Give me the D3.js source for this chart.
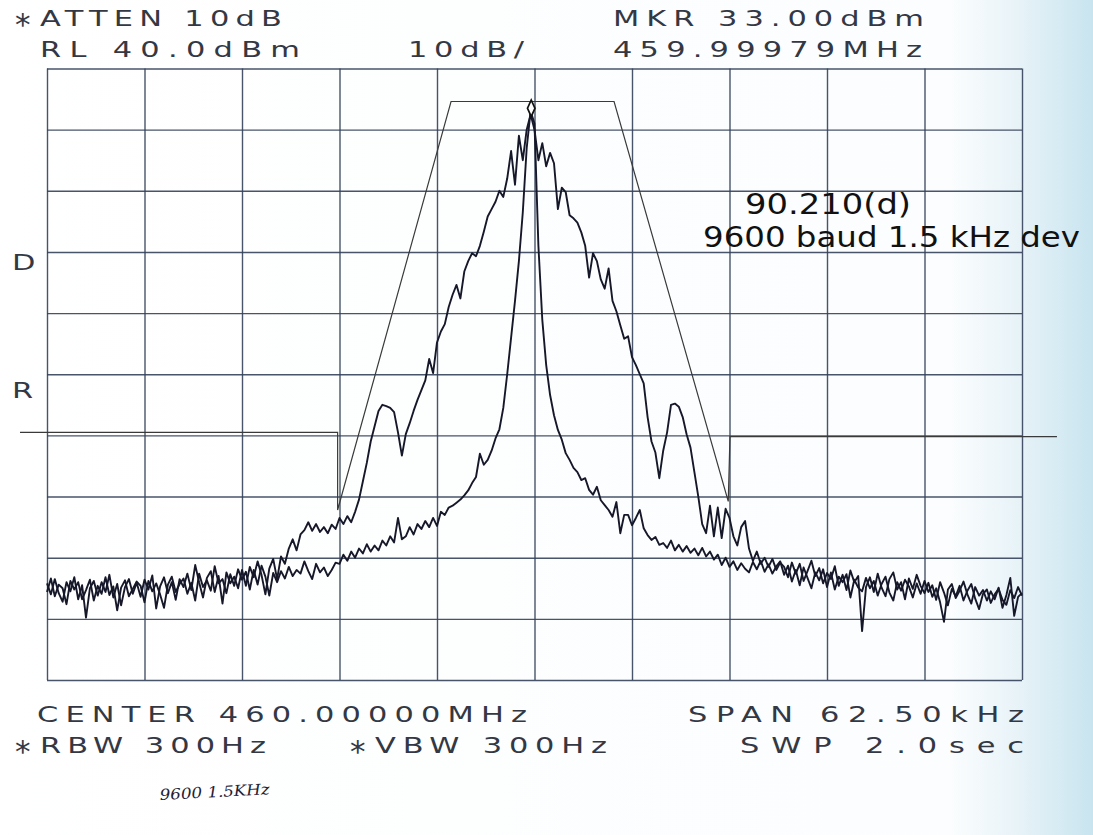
<!DOCTYPE html>
<html><head><meta charset="utf-8">
<script src="https://cdn.jsdelivr.net/npm/d3@7"></script>
<style>html,body{margin:0;padding:0;background:#fff;}svg{display:block}</style>
</head><body>
<svg id="c" width="1093" height="835"></svg>
<script>
// ---------- data ----------
const startKHz = -31.25;          // first sweep point, offset from 460 MHz
const stepKHz = 0.25;             // sweep point spacing
const freqGrid = [-31.25,-25,-18.75,-12.5,-6.25,0,6.25,12.5,18.75,25,31.25];
const levelGrid = [-60,-50,-40,-30,-20,-10,0,10,20,30,40];

// wide trace: 9600 baud, 1.5 kHz deviation (dBm)
const traceWide = [
-44.2,-46.0,-43.5,-45.8,-47.2,-44.0,-45.5,-43.2,-46.8,-44.5,-49.8,-45.0,-43.8,-46.2,-44.0,-45.6,-42.8,-46.5,-44.3,-47.8,-44.8,-43.5,-45.9,-44.1,
-46.4,-43.6,-45.2,-42.9,-48.3,-44.7,-43.2,-45.8,-44.0,-46.9,-43.5,
-44.8,-42.6,-45.3,-41.2,-44.0,-46.5,-43.3,-42.2,-45.6,-43.0,-47.5,-42.4,-44.2,-43.1,-45.0,
-42.0,-44.6,-41.5,-43.2,-40.6,-42.8,-46.0,-41.8,-40.2,-43.5,-39.8,-41.0,
-38.5,-37.0,-38.8,-36.2,-35.5,-34.2,-35.6,-34.5,-35.8,-35.0,-36.0,-34.6,-35.3,-33.5,-34.5,-33.2,-34.2,
-32.5,-30.5,-27.5,-24.5,-21.0,-18.5,-16.0,-15.0,-15.2,-15.5,-16.2,-19.5,-23.3,-19.8,-18.0,-16.0,-14.2,-12.6,-11.0,-7.5,-9.8,
-4.8,-3.0,-1.8,1.0,3.0,4.6,2.4,6.8,8.5,9.8,9.3,11.0,13.3,15.8,17.0,18.2,20.0,19.0,22.0,26.5,21.0,29.0,25.0,30.0,32.5,
30.0,25.0,27.8,24.0,26.2,24.5,17.0,20.5,19.8,16.0,15.5,14.8,13.2,11.0,5.8,9.8,8.5,5.5,4.0,7.3,2.0,0.3,-2.0,-4.2,-3.8,-7.2,-8.5,-10.0,-11.5,-17.0,-21.0,-22.8,-27.0,-22.5,
-19.5,-15.0,-14.8,-15.3,-17.0,-19.8,-22.0,-26.0,-30.0,-34.5,-36.0,-31.5,-36.5,-31.8,-36.8,-32.0,-33.5,-36.5,-38.0,-35.0,-34.0,-38.5,-40.5,-39.0,-41.0,-40.0,-41.5,-40.2,-42.0,-40.8,
-41.5,-43.2,-40.8,-42.6,-41.0,-43.8,-42.2,-40.5,-43.0,-41.7,-44.2,-42.5,
-43.5,-41.4,-44.6,-42.8,-45.3,-42.1,-44.0,-43.0,-52.0,-44.8,
-43.2,-45.6,-42.6,-44.9,-46.3,-43.5,-42.4,-45.2,-44.0,-46.8,-43.4,-45.1,-42.8,-44.6,-45.8,
-44.1,-46.4,-45.0,-47.3,-50.5,-45.2,-44.3,-46.6,-45.4,-43.9,-46.0,-47.5,-44.8,-46.2,-45.3,
-47.0,-45.5,-46.8,-44.9,-48.2,-46.1,-43.3,-49.5,-46.4,-45.8
];

// narrow trace: unmodulated carrier (dBm)
const traceCarrier = [
-45.6,-43.4,-46.3,-44.4,-45.0,-47.6,-43.8,-45.2,-44.0,-46.8,-45.3,-43.6,-47.0,-44.6,-45.9,-43.2,-46.1,-44.7,-48.6,-44.9,-43.7,-46.3,-45.1,-43.9,
-44.6,-47.3,-43.8,-45.5,-44.2,-46.0,-48.2,-44.4,-43.1,-45.6,-44.3,
-43.4,-45.9,-44.1,-47.0,-42.6,-44.8,-43.7,-45.4,-41.4,-44.2,-43.5,-45.8,-42.7,-44.6,-41.9,
-43.6,-42.3,-45.2,-42.0,-44.4,-41.3,-43.1,-46.2,-42.5,-44.0,-42.2,-43.4,
-41.5,-43.0,-42.0,-42.6,-40.6,-42.2,-43.5,-41.0,-42.4,-41.6,-43.0,-42.0,-40.8,
-41.0,-39.5,-40.5,-39.0,-40.0,-38.5,-39.3,-37.8,-39.0,-38.0,-38.8,-37.2,-38.0,-36.5,-37.5,-33.5,-37.0,-36.5,-35.0,-36.2,
-34.5,-35.3,-34.0,-35.0,-33.5,-34.8,-32.5,-33.0,-31.8,-31.5,-31.0,-30.5,-29.8,-29.0,-27.8,-26.8,-23.0,-24.8,-24.0,-22.5,
-20.5,-19.0,-15.5,-10.0,-4.0,2.0,8.5,16.5,27.0,33.0,31.0,
11.0,-1.1,-8.5,-13.4,-16.7,-19.1,-20.7,-22.9,-24.0,-25.3,-26.0,-27.3,-27.0,-28.9,-29.7,-28.4,-30.6,-31.4,-32.2,-33.3,
-30.9,-36.0,-33.0,-33.0,-34.7,-33.5,-32.2,-35.2,-36.3,-37.1,-36.6,-37.9,-37.6,
-38.4,-37.2,-38.8,-37.9,-39.0,-38.1,-39.2,-38.5,-39.6,-38.4,-39.8,-39.0,-40.3,-39.5,-41.2,-40.0,-41.5,-40.6,-42.0,-40.9,
-41.8,-42.4,-40.7,-41.9,-40.5,-42.3,-41.1,-42.6,-41.4,-40.6,
-42.8,-41.3,-43.9,-42.0,-44.5,-41.6,-43.3,-45.0,-42.4,-43.7,-41.9,-44.8,
-42.4,-45.2,-43.1,-44.0,-42.7,-46.5,-43.6,-44.9,-45.5,-43.3,
-45.0,-43.8,-46.2,-44.3,-43.1,-45.7,-47.0,-44.0,-45.4,-43.6,-44.7,-46.5,-44.2,-45.9,-43.8,
-45.6,-44.5,-46.9,-44.0,-45.7,-47.8,-45.1,-46.3,-44.6,-47.0,-45.4,-44.3,-46.7,-48.4,-45.9,
-45.2,-47.4,-46.0,-45.1,-46.9,-47.7,-45.3,-46.6,-44.8,-46.2
];

// emission mask (kHz offset, dBm)
const maskFreq  = [-32.98,-12.62,-12.62,-5.35,5.10,12.42,12.53,33.49];
const maskLevel = [-19.5,-19.5,-32.2,34.6,34.6,-30.8,-20.2,-20.2];

const markerFreq = -0.21, markerLevel = 33.0;

const headerTexts = ["ATTEN 10dB","RL 40.0dBm","10dB/","MKR 33.00dBm","459.99979MHz"];
const footerTexts = ["CENTER 460.00000MHz","SPAN 62.50kHz","RBW 300Hz","VBW 300Hz","SWP 2.0sec"];
const sideTexts = ["D","R"];
const noteTexts = ["90.210(d)","9600 baud 1.5 kHz dev"];
const handNote = "9600 1.5KHz";

// ---------- drawing ----------
const svg = d3.select("#c");
const defs = svg.append("defs");
const g = defs.append("linearGradient").attr("id","paper").attr("x1",0).attr("x2",1).attr("y1",0).attr("y2",0);
[[0,"#ffffff"],[0.87,"#fbfdfe"],[0.93,"#e8f3f8"],[0.97,"#d6ebf3"],[1,"#c8e4ef"]]
  .forEach(s=>g.append("stop").attr("offset",s[0]).attr("stop-color",s[1]));
svg.append("rect").attr("width",1093).attr("height",835).attr("fill","url(#paper)");

const x = d3.scaleLinear().domain([-31.25,31.25]).range([47,1022]);
const y = d3.scaleLinear().domain([-60,40]).range([680,68.5]);

const gridColor = "#34415a";
const gx = svg.append("g").attr("transform","translate(0,680)")
  .call(d3.axisBottom(x).tickValues(freqGrid).tickSize(-(680-68.5)).tickFormat(""));
gx.select(".domain").remove();
gx.selectAll("line").attr("stroke",gridColor).attr("stroke-width",1.4).attr("stroke-opacity",0.9);
const gy = svg.append("g").attr("transform","translate(47,0)")
  .call(d3.axisLeft(y).tickValues(levelGrid).tickSize(-(1022-47)).tickFormat(""));
gy.select(".domain").remove();
gy.selectAll("line").attr("stroke",gridColor).attr("stroke-width",1.4).attr("stroke-opacity",0.9);

// mask
const maskPts = maskFreq.map((f,i)=>[f,maskLevel[i]]);
svg.append("path").attr("d", d3.line().x(d=>x(d[0])).y(d=>y(d[1]))(maskPts))
  .attr("fill","none").attr("stroke","#3a3a3a").attr("stroke-width",1.2);

// traces
const line = d3.line().x((d,i)=>x(startKHz + i*stepKHz)).y(d=>y(d));
[traceCarrier, traceWide].forEach(t=>{
  svg.append("path").attr("d", line(t)).attr("fill","none")
    .attr("stroke","#16182a").attr("stroke-width",1.9).attr("stroke-linejoin","round");
});

// marker diamond
const mx = x(markerFreq), my = y(markerLevel) - 3;
svg.append("path").attr("d", d3.symbol().type(d3.symbolDiamond).size(60)())
  .attr("transform",`translate(${mx},${my}) scale(0.9,1.15)`)
  .attr("fill","#fff").attr("stroke","#111").attr("stroke-width",1.8);

// plotter-style text (glyphs widened horizontally)
const font = "DejaVu Sans";
const sx = 1.45;
function label(str, x0, x1, base, size, star){
  if(star){
    svg.append("text").attr("x",x0).attr("y",base+9).text("*")
      .attr("font-family",font).attr("font-size",size+10).attr("fill","#333844");
    x0 += 25;
  }
  svg.append("text").attr("x",x0/sx).attr("y",base).text(str)
    .attr("transform",`scale(${sx},1)`)
    .attr("font-family",font).attr("font-size",size).attr("fill","#333844")
    .attr("textLength",(x1-x0)/sx).attr("lengthAdjust","spacing");
}
label(headerTexts[0], 15, 282, 26, 21, true);
label(headerTexts[1], 40, 300, 57, 21, false);
label(headerTexts[2], 408, 524, 57, 21, false);
label(headerTexts[3], 613, 924, 26, 21, false);
label(headerTexts[4], 613, 922, 57, 21, false);
label(footerTexts[0], 37, 527, 722, 21, false);
label(footerTexts[1], 688, 1024, 722, 21, false);
label(footerTexts[2], 15, 266, 753, 21, true);
label(footerTexts[3], 350, 607, 753, 21, true);
label(footerTexts[4], 740, 1024, 753, 21, false);
label(sideTexts[0], 12, 34, 270, 21, false);
label(sideTexts[1], 12, 34, 398, 21, false);

// typed annotation
svg.append("text").attr("x",745).attr("y",214).text(noteTexts[0])
  .attr("font-family","DejaVu Sans").attr("font-size",28).attr("fill","#111")
  .attr("textLength",166).attr("lengthAdjust","spacingAndGlyphs");
svg.append("text").attr("x",703).attr("y",247).text(noteTexts[1])
  .attr("font-family","DejaVu Sans").attr("font-size",28).attr("fill","#111")
  .attr("textLength",377).attr("lengthAdjust","spacingAndGlyphs");

// handwritten note
svg.append("text").attr("x",160).attr("y",800).text(handNote)
  .attr("font-family","DejaVu Serif").attr("font-style","italic").attr("font-size",15)
  .attr("fill","#1d2236").attr("transform","rotate(-3,160,800)")
  .attr("textLength",110).attr("lengthAdjust","spacingAndGlyphs");
</script>
</body></html>
